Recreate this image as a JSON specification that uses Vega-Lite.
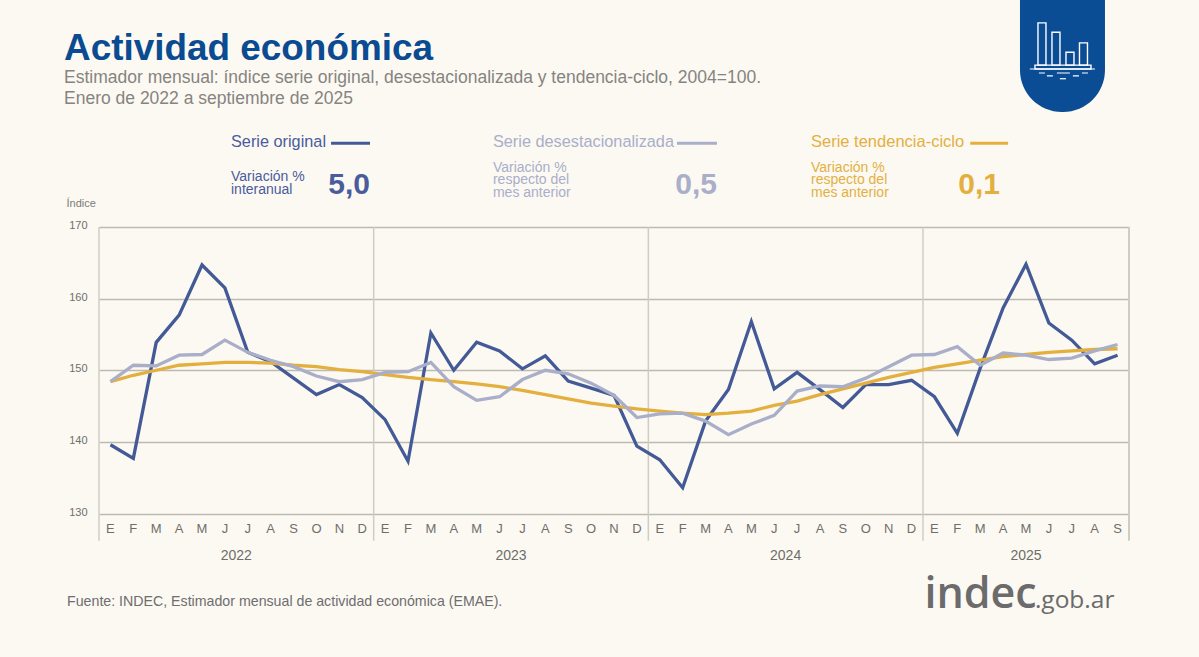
{"$schema":"https://vega.github.io/schema/vega-lite/v6.json","width":1030,"height":286.5,"autosize":{"type":"none"},"padding":{"left":99,"top":227,"right":70,"bottom":143.5},"background":"#fcf9f3","config":{"view":{"stroke":null},"text":{"font":"Liberation Sans"},"title":{"font":"Liberation Sans","subtitleFont":"Liberation Sans"}},"title":{"text":"Actividad económica","subtitle":["Estimador mensual: índice serie original, desestacionalizada y tendencia-ciclo, 2004=100.","Enero de 2022 a septiembre de 2025"],"anchor":"start","frame":"group","dx":-35,"offset":-109,"fontSize":36.9,"fontWeight":"bold","color":"#0a4b91","subtitleFontSize":17.5,"subtitleColor":"#858480","subtitleLineHeight":21,"subtitlePadding":2},"data":{"values":[
{"mes":"2022-01","serie":"Serie original","indice":139.6},{"mes":"2022-02","serie":"Serie original","indice":137.7},{"mes":"2022-03","serie":"Serie original","indice":153.9},{"mes":"2022-04","serie":"Serie original","indice":157.7},{"mes":"2022-05","serie":"Serie original","indice":164.7},{"mes":"2022-06","serie":"Serie original","indice":161.5},{"mes":"2022-07","serie":"Serie original","indice":152.5},{"mes":"2022-08","serie":"Serie original","indice":151.2},{"mes":"2022-09","serie":"Serie original","indice":148.9},{"mes":"2022-10","serie":"Serie original","indice":146.6},{"mes":"2022-11","serie":"Serie original","indice":148},{"mes":"2022-12","serie":"Serie original","indice":146.2},
{"mes":"2023-01","serie":"Serie original","indice":143.1},{"mes":"2023-02","serie":"Serie original","indice":137.3},{"mes":"2023-03","serie":"Serie original","indice":155.2},{"mes":"2023-04","serie":"Serie original","indice":150},{"mes":"2023-05","serie":"Serie original","indice":153.9},{"mes":"2023-06","serie":"Serie original","indice":152.7},{"mes":"2023-07","serie":"Serie original","indice":150.2},{"mes":"2023-08","serie":"Serie original","indice":152},{"mes":"2023-09","serie":"Serie original","indice":148.5},{"mes":"2023-10","serie":"Serie original","indice":147.5},{"mes":"2023-11","serie":"Serie original","indice":146.5},{"mes":"2023-12","serie":"Serie original","indice":139.4},
{"mes":"2024-01","serie":"Serie original","indice":137.5},{"mes":"2024-02","serie":"Serie original","indice":133.6},{"mes":"2024-03","serie":"Serie original","indice":142.9},{"mes":"2024-04","serie":"Serie original","indice":147.3},{"mes":"2024-05","serie":"Serie original","indice":156.8},{"mes":"2024-06","serie":"Serie original","indice":147.4},{"mes":"2024-07","serie":"Serie original","indice":149.7},{"mes":"2024-08","serie":"Serie original","indice":147.3},{"mes":"2024-09","serie":"Serie original","indice":144.8},{"mes":"2024-10","serie":"Serie original","indice":148},{"mes":"2024-11","serie":"Serie original","indice":148},{"mes":"2024-12","serie":"Serie original","indice":148.6},
{"mes":"2025-01","serie":"Serie original","indice":146.3},{"mes":"2025-02","serie":"Serie original","indice":141.2},{"mes":"2025-03","serie":"Serie original","indice":150.3},{"mes":"2025-04","serie":"Serie original","indice":158.7},{"mes":"2025-05","serie":"Serie original","indice":164.8},{"mes":"2025-06","serie":"Serie original","indice":156.6},{"mes":"2025-07","serie":"Serie original","indice":154.2},{"mes":"2025-08","serie":"Serie original","indice":150.9},{"mes":"2025-09","serie":"Serie original","indice":152.1},
{"mes":"2022-01","serie":"Serie tendencia-ciclo","indice":148.4},{"mes":"2022-02","serie":"Serie tendencia-ciclo","indice":149.3},{"mes":"2022-03","serie":"Serie tendencia-ciclo","indice":150},{"mes":"2022-04","serie":"Serie tendencia-ciclo","indice":150.7},{"mes":"2022-05","serie":"Serie tendencia-ciclo","indice":150.9},{"mes":"2022-06","serie":"Serie tendencia-ciclo","indice":151.1},{"mes":"2022-07","serie":"Serie tendencia-ciclo","indice":151.1},{"mes":"2022-08","serie":"Serie tendencia-ciclo","indice":151},{"mes":"2022-09","serie":"Serie tendencia-ciclo","indice":150.7},{"mes":"2022-10","serie":"Serie tendencia-ciclo","indice":150.5},{"mes":"2022-11","serie":"Serie tendencia-ciclo","indice":150.1},{"mes":"2022-12","serie":"Serie tendencia-ciclo","indice":149.8},
{"mes":"2023-01","serie":"Serie tendencia-ciclo","indice":149.4},{"mes":"2023-02","serie":"Serie tendencia-ciclo","indice":149},{"mes":"2023-03","serie":"Serie tendencia-ciclo","indice":148.7},{"mes":"2023-04","serie":"Serie tendencia-ciclo","indice":148.4},{"mes":"2023-05","serie":"Serie tendencia-ciclo","indice":148.1},{"mes":"2023-06","serie":"Serie tendencia-ciclo","indice":147.7},{"mes":"2023-07","serie":"Serie tendencia-ciclo","indice":147.2},{"mes":"2023-08","serie":"Serie tendencia-ciclo","indice":146.6},{"mes":"2023-09","serie":"Serie tendencia-ciclo","indice":146},{"mes":"2023-10","serie":"Serie tendencia-ciclo","indice":145.4},{"mes":"2023-11","serie":"Serie tendencia-ciclo","indice":145},{"mes":"2023-12","serie":"Serie tendencia-ciclo","indice":144.6},
{"mes":"2024-01","serie":"Serie tendencia-ciclo","indice":144.3},{"mes":"2024-02","serie":"Serie tendencia-ciclo","indice":144},{"mes":"2024-03","serie":"Serie tendencia-ciclo","indice":143.8},{"mes":"2024-04","serie":"Serie tendencia-ciclo","indice":144},{"mes":"2024-05","serie":"Serie tendencia-ciclo","indice":144.3},{"mes":"2024-06","serie":"Serie tendencia-ciclo","indice":145.1},{"mes":"2024-07","serie":"Serie tendencia-ciclo","indice":145.7},{"mes":"2024-08","serie":"Serie tendencia-ciclo","indice":146.6},{"mes":"2024-09","serie":"Serie tendencia-ciclo","indice":147.4},{"mes":"2024-10","serie":"Serie tendencia-ciclo","indice":148.2},{"mes":"2024-11","serie":"Serie tendencia-ciclo","indice":149},{"mes":"2024-12","serie":"Serie tendencia-ciclo","indice":149.7},
{"mes":"2025-01","serie":"Serie tendencia-ciclo","indice":150.4},{"mes":"2025-02","serie":"Serie tendencia-ciclo","indice":150.9},{"mes":"2025-03","serie":"Serie tendencia-ciclo","indice":151.4},{"mes":"2025-04","serie":"Serie tendencia-ciclo","indice":151.9},{"mes":"2025-05","serie":"Serie tendencia-ciclo","indice":152.2},{"mes":"2025-06","serie":"Serie tendencia-ciclo","indice":152.5},{"mes":"2025-07","serie":"Serie tendencia-ciclo","indice":152.7},{"mes":"2025-08","serie":"Serie tendencia-ciclo","indice":152.9},{"mes":"2025-09","serie":"Serie tendencia-ciclo","indice":153},
{"mes":"2022-01","serie":"Serie desestacionalizada","indice":148.4},{"mes":"2022-02","serie":"Serie desestacionalizada","indice":150.7},{"mes":"2022-03","serie":"Serie desestacionalizada","indice":150.6},{"mes":"2022-04","serie":"Serie desestacionalizada","indice":152.1},{"mes":"2022-05","serie":"Serie desestacionalizada","indice":152.2},{"mes":"2022-06","serie":"Serie desestacionalizada","indice":154.2},{"mes":"2022-07","serie":"Serie desestacionalizada","indice":152.5},{"mes":"2022-08","serie":"Serie desestacionalizada","indice":151.4},{"mes":"2022-09","serie":"Serie desestacionalizada","indice":150.5},{"mes":"2022-10","serie":"Serie desestacionalizada","indice":149.2},{"mes":"2022-11","serie":"Serie desestacionalizada","indice":148.4},{"mes":"2022-12","serie":"Serie desestacionalizada","indice":148.7},
{"mes":"2023-01","serie":"Serie desestacionalizada","indice":149.7},{"mes":"2023-02","serie":"Serie desestacionalizada","indice":149.8},{"mes":"2023-03","serie":"Serie desestacionalizada","indice":151.1},{"mes":"2023-04","serie":"Serie desestacionalizada","indice":147.7},{"mes":"2023-05","serie":"Serie desestacionalizada","indice":145.8},{"mes":"2023-06","serie":"Serie desestacionalizada","indice":146.3},{"mes":"2023-07","serie":"Serie desestacionalizada","indice":148.7},{"mes":"2023-08","serie":"Serie desestacionalizada","indice":150},{"mes":"2023-09","serie":"Serie desestacionalizada","indice":149.5},{"mes":"2023-10","serie":"Serie desestacionalizada","indice":148.2},{"mes":"2023-11","serie":"Serie desestacionalizada","indice":146.5},{"mes":"2023-12","serie":"Serie desestacionalizada","indice":143.4},
{"mes":"2024-01","serie":"Serie desestacionalizada","indice":143.9},{"mes":"2024-02","serie":"Serie desestacionalizada","indice":144},{"mes":"2024-03","serie":"Serie desestacionalizada","indice":142.9},{"mes":"2024-04","serie":"Serie desestacionalizada","indice":141},{"mes":"2024-05","serie":"Serie desestacionalizada","indice":142.5},{"mes":"2024-06","serie":"Serie desestacionalizada","indice":143.7},{"mes":"2024-07","serie":"Serie desestacionalizada","indice":147.1},{"mes":"2024-08","serie":"Serie desestacionalizada","indice":147.8},{"mes":"2024-09","serie":"Serie desestacionalizada","indice":147.7},{"mes":"2024-10","serie":"Serie desestacionalizada","indice":148.9},{"mes":"2024-11","serie":"Serie desestacionalizada","indice":150.5},{"mes":"2024-12","serie":"Serie desestacionalizada","indice":152.1},
{"mes":"2025-01","serie":"Serie desestacionalizada","indice":152.2},{"mes":"2025-02","serie":"Serie desestacionalizada","indice":153.3},{"mes":"2025-03","serie":"Serie desestacionalizada","indice":150.7},{"mes":"2025-04","serie":"Serie desestacionalizada","indice":152.4},{"mes":"2025-05","serie":"Serie desestacionalizada","indice":152.1},{"mes":"2025-06","serie":"Serie desestacionalizada","indice":151.5},{"mes":"2025-07","serie":"Serie desestacionalizada","indice":151.7},{"mes":"2025-08","serie":"Serie desestacionalizada","indice":152.7},{"mes":"2025-09","serie":"Serie desestacionalizada","indice":153.6}
]},"encoding":{"x":{"field":"mes","type":"ordinal","title":null,"scale":{"type":"band","paddingInner":0,"paddingOuter":0},"axis":{"domain":false,"ticks":false,"grid":false,"labelAngle":0,"labelPadding":9,"labelFont":"Liberation Sans","labelFontSize":13,"labelColor":"#6f6e69","labelExpr":"['E','F','M','A','M','J','J','A','S','O','N','D'][toNumber(slice(datum.value,5))-1]"}},"y":{"field":"indice","type":"quantitative","scale":{"domain":[130,170],"nice":false,"zero":false},"axis":{"values":[130,140,150,160,170],"domain":false,"ticks":false,"grid":true,"gridColor":"#bdbab0","gridWidth":1.5,"labelPadding":12,"labelOffset":-1.5,"labelFont":"Liberation Sans","labelFontSize":11,"labelColor":"#6f6e69","title":"Índice","titleAngle":0,"titleX":-33,"titleY":-19,"titleAlign":"left","titleFont":"Liberation Sans","titleFontSize":11,"titleFontWeight":"normal","titleColor":"#7c7b78"}}},"layer":[
{"data":{"values":[{"mes":"2022-01","indice":170,"fin":126.2},{"mes":"2023-01","indice":170,"fin":126.2},{"mes":"2024-01","indice":170,"fin":126.2},{"mes":"2025-01","indice":170,"fin":126.2}]},"mark":{"type":"rule","color":"#cfccc3","strokeWidth":1.5},"encoding":{"x":{"field":"mes","type":"ordinal","bandPosition":0,"title":null},"y2":{"field":"fin"}}},
{"data":{"values":[{"mes":"2025-09","indice":170,"fin":126.2}]},"mark":{"type":"rule","color":"#cfccc3","strokeWidth":2},"encoding":{"x":{"field":"mes","type":"ordinal","bandPosition":1,"title":null},"y2":{"field":"fin"}}},
{"mark":{"type":"line","strokeWidth":3.3,"strokeJoin":"miter"},"encoding":{"color":{"field":"serie","type":"nominal","legend":null,"sort":null,"scale":{"domain":["Serie original","Serie tendencia-ciclo","Serie desestacionalizada"],"range":["#435a96","#e3b03f","#a9aec9"]}}}},
{"data":{"values":[{"mes":"2022-06","indice":124.1,"texto":"2022"},{"mes":"2023-06","indice":124.1,"texto":"2023"},{"mes":"2024-06","indice":124.1,"texto":"2024"}]},"mark":{"type":"text","fontSize":14,"color":"#6e6d68","dx":11.4},"encoding":{"text":{"field":"texto"}}},
{"data":{"values":[{"mes":"2025-05","indice":124.1,"texto":"2025"}]},"mark":{"type":"text","fontSize":14,"color":"#6e6d68"},"encoding":{"text":{"field":"texto"}}},
{"data":{"values":[{"mes":"2022-01","indice":117.7,"texto":"Fuente: INDEC, Estimador mensual de actividad económica (EMAE)."}]},"mark":{"type":"text","fontSize":14.2,"color":"#6e6e6e","align":"left","dx":-43.4},"encoding":{"text":{"field":"texto"}}},
{"data":{"values":[{"mes":"2025-01","indice":116.8,"texto":"indec"}]},"mark":{"type":"text","font":"Open Sans","fontSize":43,"fontWeight":600,"color":"#6b6b6b","align":"left","baseline":"alphabetic","dx":-10},"encoding":{"text":{"field":"texto"}}},
{"data":{"values":[{"mes":"2025-06","indice":116.8,"texto":".gob.ar"}]},"mark":{"type":"text","font":"Open Sans","fontSize":24.5,"color":"#6b6b6b","align":"left","baseline":"alphabetic","dx":-14},"encoding":{"text":{"field":"texto"}}},
{"data":{"values":[{"mes":"2022-06","indice":181.85,"texto":"Serie original"}]},"mark":{"type":"text","fontSize":16.3,"color":"#4a5c9c","align":"left","dx":6.1},"encoding":{"text":{"field":"texto"}}},
{"data":{"values":[{"mes":"2022-06","indice":177,"texto":"Variación %\ninteranual"}]},"mark":{"type":"text","fontSize":14,"lineHeight":13,"lineBreak":"\n","color":"#4a5c9c","align":"left","dx":6.1},"encoding":{"text":{"field":"texto"}}},
{"data":{"values":[{"mes":"2022-12","indice":175.8,"texto":"5,0"}]},"mark":{"type":"text","fontSize":30,"fontWeight":"bold","color":"#4a5c9c","align":"right","dx":7.8},"encoding":{"text":{"field":"texto"}}},
{"data":{"values":[{"mes":"2022-11","indice":181.7,"fin":"2022-12"}]},"mark":{"type":"rule","color":"#435a96","strokeWidth":3,"xOffset":-8.3,"x2Offset":7.8},"encoding":{"x2":{"field":"fin"}}},
{"data":{"values":[{"mes":"2023-06","indice":181.85,"texto":"Serie desestacionalizada"}]},"mark":{"type":"text","fontSize":16.3,"color":"#a9aec9","align":"left","dx":-6.6},"encoding":{"text":{"field":"texto"}}},
{"data":{"values":[{"mes":"2023-06","indice":178.3,"texto":"Variación %\nrespecto del\nmes anterior"}]},"mark":{"type":"text","fontSize":14,"lineHeight":12.7,"lineBreak":"\n","color":"#a9aec9","align":"left","dx":-6.6},"encoding":{"text":{"field":"texto"}}},
{"data":{"values":[{"mes":"2024-03","indice":175.8,"texto":"0,5"}]},"mark":{"type":"text","fontSize":30,"fontWeight":"bold","color":"#a9aec9","align":"right","dx":11.4},"encoding":{"text":{"field":"texto"}}},
{"data":{"values":[{"mes":"2024-02","indice":181.7,"fin":"2024-03"}]},"mark":{"type":"rule","color":"#a9aec9","strokeWidth":3,"xOffset":-5.7,"x2Offset":11.4},"encoding":{"x2":{"field":"fin"}}},
{"data":{"values":[{"mes":"2024-08","indice":181.85,"texto":"Serie tendencia-ciclo"}]},"mark":{"type":"text","fontSize":16.5,"color":"#e3b03f","align":"left","dx":-9},"encoding":{"text":{"field":"texto"}}},
{"data":{"values":[{"mes":"2024-08","indice":178.3,"texto":"Variación %\nrespecto del\nmes anterior"}]},"mark":{"type":"text","fontSize":14,"lineHeight":12.7,"lineBreak":"\n","color":"#e3b03f","align":"left","dx":-9},"encoding":{"text":{"field":"texto"}}},
{"data":{"values":[{"mes":"2025-04","indice":175.8,"texto":"0,1"}]},"mark":{"type":"text","fontSize":30,"fontWeight":"bold","color":"#e3b03f","align":"right","dx":-3.2},"encoding":{"text":{"field":"texto"}}},
{"data":{"values":[{"mes":"2025-03","indice":181.7,"fin":"2025-04"}]},"mark":{"type":"rule","color":"#e3b03f","strokeWidth":3,"xOffset":-10,"x2Offset":5},"encoding":{"x2":{"field":"fin"}}},
{"data":{"values":[{"mes":"2025-07","indice":201.7,"fin":186.06}]},"mark":{"type":"rect","width":85,"xOffset":-9.3,"color":"#0a4d94","cornerRadiusBottomLeft":42,"cornerRadiusBottomRight":42},"encoding":{"y2":{"field":"fin"}}},
{"data":{"values":[{"mes":"2025-07","indice":198.5,"fin":192.6}]},"mark":{"type":"rect","width":8,"xOffset":-29.8,"fill":"transparent","stroke":"#ffffff","strokeWidth":1.4},"encoding":{"y2":{"field":"fin"}}},
{"data":{"values":[{"mes":"2025-07","indice":197.2,"fin":192.6}]},"mark":{"type":"rect","width":8,"xOffset":-15.8,"fill":"transparent","stroke":"#ffffff","strokeWidth":1.4},"encoding":{"y2":{"field":"fin"}}},
{"data":{"values":[{"mes":"2025-07","indice":194.4,"fin":192.6}]},"mark":{"type":"rect","width":8,"xOffset":-1.8,"fill":"transparent","stroke":"#ffffff","strokeWidth":1.4},"encoding":{"y2":{"field":"fin"}}},
{"data":{"values":[{"mes":"2025-07","indice":195.7,"fin":192.6}]},"mark":{"type":"rect","width":8,"xOffset":11.7,"fill":"transparent","stroke":"#ffffff","strokeWidth":1.4},"encoding":{"y2":{"field":"fin"}}},
{"data":{"values":[{"mes":"2025-07","indice":192.6,"fin":192.06}]},"mark":{"type":"rect","width":56,"xOffset":-8.8,"fill":"transparent","stroke":"#ffffff","strokeWidth":1.4},"encoding":{"y2":{"field":"fin"}}},
{"data":{"values":[{"mes":"2025-05","indice":192.06,"fin":"2025-08"}]},"mark":{"type":"rule","color":"#ffffff","strokeWidth":1.2,"xOffset":3.8,"x2Offset":0.3},"encoding":{"x2":{"field":"fin"}}},
{"data":{"values":[{"mes":"2025-06","indice":191.5,"fin":"2025-08"}]},"mark":{"type":"rule","color":"#ffffff","strokeWidth":1.2,"xOffset":-10,"x2Offset":-6.7,"strokeDash":[6,12,13,12,6,0]},"encoding":{"x2":{"field":"fin"}}},
{"data":{"values":[{"mes":"2025-06","indice":191.1,"fin":"2025-07"}]},"mark":{"type":"rule","color":"#ffffff","strokeWidth":1.2,"xOffset":-2,"x2Offset":7.2,"strokeDash":[6,20,6,0]},"encoding":{"x2":{"field":"fin"}}},
{"data":{"values":[{"mes":"2025-06","indice":190.7,"fin":"2025-07"}]},"mark":{"type":"rule","color":"#ffffff","strokeWidth":1.2,"xOffset":11,"x2Offset":-5.8},"encoding":{"x2":{"field":"fin"}}}
]}
